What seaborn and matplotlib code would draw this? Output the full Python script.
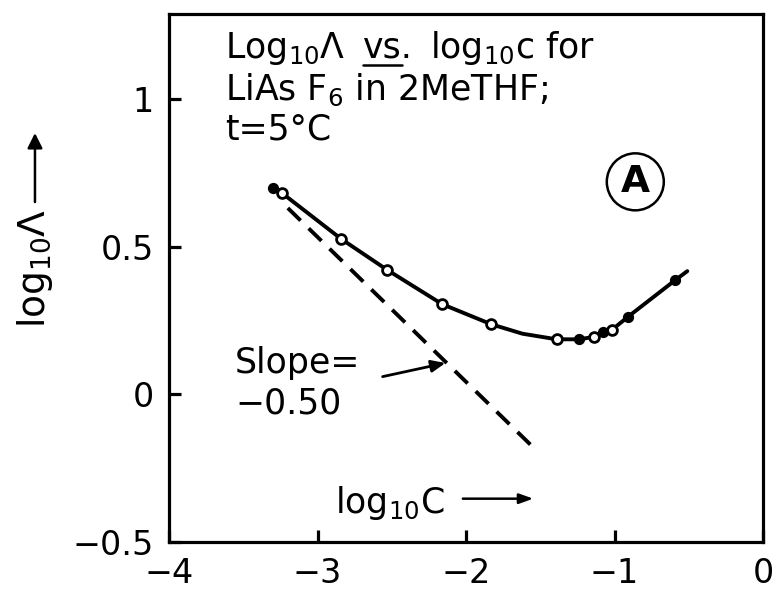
import matplotlib
matplotlib.use("Agg")
import matplotlib.pyplot as plt
import seaborn as sns
import pandas as pd

# ---- data ----
curve_x = [-3.30, -3.24, -2.84, -2.53, -2.16, -1.83, -1.62, -1.39, -1.24, -1.14, -1.08, -1.02, -0.91, -0.59, -0.51]
curve_y = [0.700, 0.683, 0.527, 0.422, 0.306, 0.238, 0.206, 0.187, 0.187, 0.195, 0.212, 0.218, 0.263, 0.388, 0.418]

open_x = [-3.24, -2.84, -2.53, -2.16, -1.83, -1.39, -1.14, -1.02]
open_y = [0.683, 0.527, 0.422, 0.306, 0.238, 0.187, 0.195, 0.218]

filled_x = [-3.30, -1.24, -1.08, -0.91, -0.59]
filled_y = [0.700, 0.187, 0.212, 0.263, 0.388]

slope_x = [-3.20, -1.56]
slope_y = [0.632, -0.173]

xticks = [-4, -3, -2, -1, 0]
xticklabels = ["\u22124", "\u22123", "\u22122", "\u22121", "0"]
yticks = [-0.5, 0, 0.5, 1]
yticklabels = ["\u22120.5", "0", "0.5", "1"]

sns.set_theme(style="ticks")
plt.rcParams["font.family"] = ["DejaVu Sans"]
plt.rcParams["mathtext.fontset"] = "dejavusans"
plt.rcParams["mathtext.default"] = "regular"
plt.rcParams["text.color"] = "black"

FS_TICK = 24
FS = 25
LW = 2.3

fig = plt.figure(figsize=(7.77, 5.92), dpi=100)
ax = fig.add_axes([0.2175, 0.0845, 0.7645, 0.892])

curve_df = pd.DataFrame({"x": curve_x, "y": curve_y})
open_df = pd.DataFrame({"x": open_x, "y": open_y})
filled_df = pd.DataFrame({"x": filled_x, "y": filled_y})
slope_df = pd.DataFrame({"x": slope_x, "y": slope_y})

sns.lineplot(data=curve_df, x="x", y="y", ax=ax, color="black", lw=2.8, sort=False,
             estimator=None)
sns.lineplot(data=slope_df, x="x", y="y", ax=ax, color="black", lw=2.8, sort=False,
             estimator=None)
ax.lines[-1].set_dashes([4.6, 2.9])
sns.scatterplot(data=open_df, x="x", y="y", ax=ax, s=50, facecolor="white",
                edgecolor="black", linewidth=2.0, zorder=5)
sns.scatterplot(data=filled_df, x="x", y="y", ax=ax, s=50, color="black",
                edgecolor="black", linewidth=1, zorder=5)

ax.set_xlim(-4, 0)
ax.set_ylim(-0.5, 1.29)
ax.set_xticks(xticks)
ax.set_xticklabels(xticklabels)
ax.set_yticks(yticks)
ax.set_yticklabels(yticklabels)
ax.tick_params(direction="in", length=8.5, width=LW, labelsize=FS_TICK, pad=11,
               colors="black")
for sp in ax.spines.values():
    sp.set_linewidth(LW)
    sp.set_color("black")
ax.set_xlabel("")
ax.set_ylabel("")

# title block
ax.text(0.0943, 0.9167, "Log$_{10}$\u039b", transform=ax.transAxes, fontsize=FS,
        va="baseline", ha="left")
ax.text(0.3266, 0.9167, "vs.", transform=ax.transAxes, fontsize=FS,
        va="baseline", ha="left")
ax.plot([0.3266, 0.392], [0.904, 0.904], transform=ax.transAxes, color="black", lw=1.8)
ax.text(0.4394, 0.9167, "log$_{10}$c for", transform=ax.transAxes, fontsize=FS,
        va="baseline", ha="left")
ax.text(0.0943, 0.837, "LiAs F$_6$ in 2MeTHF;", transform=ax.transAxes, fontsize=FS,
        va="baseline", ha="left")
ax.text(0.0943, 0.762, "t=5\u00b0C", transform=ax.transAxes, fontsize=FS,
        va="baseline", ha="left")

# circled A
ax.text(0.785, 0.682, "A", transform=ax.transAxes, fontsize=27, fontweight="bold",
        va="center", ha="center",
        bbox=dict(boxstyle="circle,pad=0.28", fc="white", ec="black", lw=1.8))

# slope annotation
ax.text(0.111, 0.320, "Slope=", transform=ax.transAxes, fontsize=FS,
        va="baseline", ha="left")
ax.text(0.111, 0.244, "\u22120.50", transform=ax.transAxes, fontsize=FS,
        va="baseline", ha="left")
ax.annotate("", xy=(0.470, 0.340), xytext=(0.355, 0.312), xycoords="axes fraction",
            arrowprops=dict(arrowstyle="-|>,head_length=0.7,head_width=0.3",
                            color="black", lw=2))

# x label inside
ax.text(0.279, 0.074, "log$_{10}$C", transform=ax.transAxes, fontsize=FS,
        va="center", ha="left")
ax.annotate("", xy=(0.618, 0.082), xytext=(0.49, 0.082), xycoords="axes fraction",
            arrowprops=dict(arrowstyle="-|>,head_length=0.7,head_width=0.25",
                            color="black", lw=1.8))

# y label
fig.text(0.045, 0.547, "log$_{10}$\u039b", rotation=90, fontsize=27,
         va="center", ha="center")
fig.add_artist(matplotlib.patches.FancyArrowPatch(
    (0.045, 0.654), (0.045, 0.78), transform=fig.transFigure,
    arrowstyle="-|>,head_length=6,head_width=3", color="black", lw=1.8,
    mutation_scale=1.5))

fig.savefig("out.png", dpi=100, facecolor="white")
